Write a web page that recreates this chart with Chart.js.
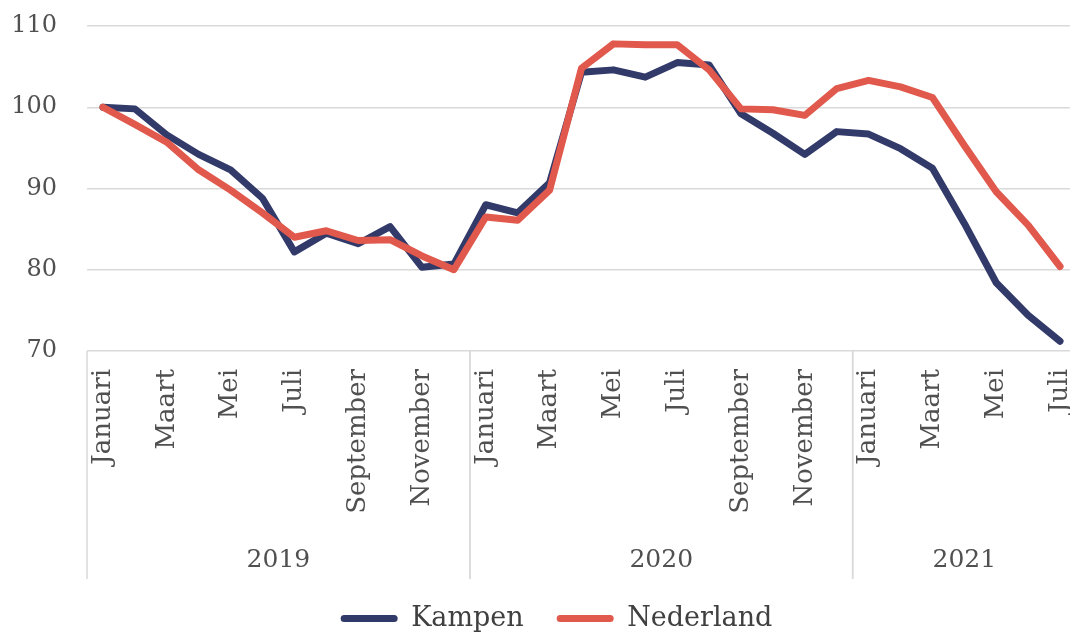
<!DOCTYPE html>
<html lang="nl">
<head>
<meta charset="utf-8">
<title>Kampen en Nederland</title>
<script src="https://cdn.jsdelivr.net/npm/chart.js"></script>
<style>
  html, body { margin: 0; padding: 0; background: #fff; overflow: hidden; }
  #wrap { position: relative; width: 1113px; height: 642px; }
</style>
</head>
<body>
<div id="wrap"><canvas id="grafiek"></canvas></div>
<script>
// Data
const maanden = ['Januari', 'Februari', 'Maart', 'April', 'Mei', 'Juni', 'Juli',
  'Augustus', 'September', 'Oktober', 'November', 'December'];
const jaren = ['2019', '2020', '2021'];
const maandenPerJaar = [12, 12, 7];

const kampen = [100, 99.8, 96.6, 94.2, 92.3, 88.8, 82.2, 84.5, 83.2, 85.3, 80.3, 80.7,
  88.0, 87.0, 90.7, 104.3, 104.6, 103.7, 105.5, 105.2, 99.2, 96.8, 94.2, 97.0,
  96.7, 94.9, 92.5, 85.7, 78.4, 74.4, 71.2];
const nederland = [100, 97.9, 95.7, 92.3, 89.8, 87.0, 84.0, 84.8, 83.6, 83.7, 81.7, 80.0,
  86.5, 86.1, 89.8, 104.8, 107.8, 107.7, 107.7, 104.6, 99.8, 99.7, 99.0, 102.3,
  103.3, 102.5, 101.2, 95.3, 89.6, 85.5, 80.4];

const yMin = 70;
const yMax = 110;
const yStap = 10;

// labels opbouwen: maandnamen per jaar
const labels = [];
maandenPerJaar.forEach(n => {
  for (let m = 0; m < n; m++) labels.push(maanden[m]);
});

const GRIJS = '#d9d9d9';
const TEKST = '#505050';
const FONT = "'DejaVu Serif', 'Liberation Serif', serif";

Chart.defaults.font.family = FONT;
Chart.defaults.color = TEKST;

// jaartallen + scheidingslijnen onder de maanden
const jaarRij = {
  id: 'jaarRij',
  afterLayout(chart) {
    // legenda iets naar rechts, zoals in het origineel
    chart.legend.left += 13;
    chart.legend.right += 13;
  },
  afterDraw(chart) {
    const x = chart.scales.x;
    const ctx = chart.ctx;
    const half = (x.getPixelForValue(1) - x.getPixelForValue(0)) / 2;
    const top = chart.chartArea.bottom;
    const onder = x.bottom + 7;

    ctx.save();
    ctx.strokeStyle = GRIJS;
    ctx.lineWidth = 1.5;
    ctx.font = '25px ' + FONT;
    ctx.fillStyle = TEKST;
    ctx.textAlign = 'center';
    ctx.textBaseline = 'middle';

    let start = 0;
    jaren.forEach((jaar, j) => {
      const eind = start + maandenPerJaar[j];
      const x0 = x.getPixelForValue(start) - half;
      const x1 = x.getPixelForValue(eind - 1) + half;
      ctx.beginPath();
      ctx.moveTo(x0, top);
      ctx.lineTo(x0, onder);
      ctx.moveTo(x1, top);
      ctx.lineTo(x1, onder);
      ctx.stroke();
      ctx.fillText(jaar, (x0 + x1) / 2, x.bottom - 12);
      start = eind;
    });
    ctx.restore();
  }
};

const ctx = document.getElementById('grafiek').getContext('2d');
new Chart(ctx, {
  type: 'line',
  data: {
    labels: labels,
    datasets: [{
      label: 'Kampen',
      data: kampen,
      borderColor: '#323a6a',
      backgroundColor: '#323a6a',
      borderWidth: 7,
      pointRadius: 0,
      tension: 0,
      borderJoinStyle: 'round',
      borderCapStyle: 'round',
      order: 2
    }, {
      label: 'Nederland',
      data: nederland,
      borderColor: '#e0594c',
      backgroundColor: '#e0594c',
      borderWidth: 7,
      pointRadius: 0,
      tension: 0,
      borderJoinStyle: 'round',
      borderCapStyle: 'round',
      order: 1
    }]
  },
  options: {
    responsive: true,
    maintainAspectRatio: false,
    animation: false,
    layout: { padding: { top: 26, left: 11, right: 37, bottom: 0 } },
    plugins: {
      tooltip: { enabled: false },
      legend: {
        position: 'bottom',
        labels: {
          font: { size: 27, family: FONT },
          color: '#404040',
          boxWidth: 57,
          boxHeight: 7,
          useBorderRadius: true,
          borderRadius: 3.5,
          padding: 33,
          sort: (a, b) => a.datasetIndex - b.datasetIndex,
          generateLabels(chart) {
            const items = Chart.defaults.plugins.legend.labels.generateLabels(chart);
            items.forEach(it => { it.lineWidth = 0; });
            return items;
          }
        }
      }
    },
    scales: {
      x: {
        offset: true,
        grid: { display: false, drawTicks: false, offset: true },
        border: { display: false },
        ticks: {
          autoSkip: false,
          minRotation: 90,
          maxRotation: 90,
          padding: 18,
          color: TEKST,
          font: { size: 26 },
          callback: function (val, i) { return i % 2 === 0 ? this.getLabelForValue(val) : ''; }
        },
        afterFit(scale) { scale.height = 221; }
      },
      y: {
        min: yMin,
        max: yMax,
        ticks: { stepSize: yStap, padding: 30, color: TEKST, font: { size: 24 } },
        grid: { color: GRIJS, lineWidth: 1.5, drawTicks: false },
        border: { display: false },
        afterFit(scale) {
          scale.width = 76;
          scale.paddingTop = 0;
          scale.paddingBottom = 0;
        }
      }
    }
  },
  plugins: [jaarRij]
});
</script>
</body>
</html>
